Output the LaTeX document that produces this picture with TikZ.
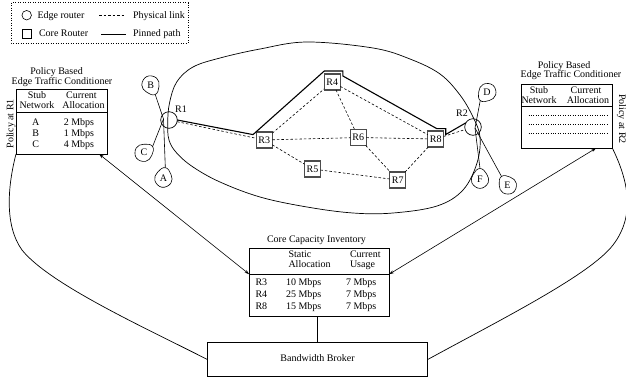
\documentclass[tikz,border=0pt]{standalone}
\usepackage{fontspec}
\setmainfont{Liberation Serif}
\usetikzlibrary{arrows.meta,shapes.geometric,calc}
\newcommand{\tdrop}[2]{\draw[line width=0.6pt,shift={(#1.center)}] plot[smooth cycle,tension=0.75] coordinates {(#2:10.5) (#2+55:8.3) (#2+115:9) (#2+180:9.4) (#2+245:9) (#2+305:8.3)};}
\begin{document}
\begin{tikzpicture}[x=1pt,y=1pt,
  every node/.style={font=\fontsize{10}{10.5}\selectfont, inner sep=0pt, outer sep=0pt},
  lbl/.style={anchor=base},
  lblw/.style={anchor=base west},
  edger/.style={circle,draw,line width=0.7pt,minimum size=16.6pt},
  core/.style={rectangle,draw=black!70,line width=1.1pt,minimum size=16pt},
  stub/.style={circle,minimum size=21pt},
  phys/.style={dash pattern=on 2.5pt off 2pt,line width=0.6pt},
  pinned/.style={line width=1.1pt,line join=miter},
  tbox/.style={rectangle,draw,line width=0.8pt},
  wire/.style={line width=0.6pt},
  curve/.style={line width=0.7pt},
  arr/.style={line width=0.6pt,{Stealth[length=5pt,width=3pt]}-{Stealth[length=5pt,width=3pt]}},
]
\useasboundingbox (0,0) rectangle (626,-381);

% ---------- legend ----------
\draw[dotted,line width=0.5pt] (11,-2.7) rectangle (188,-43);
\node[circle,draw,line width=0.6pt,minimum size=9.5pt] (lgE) at (26.7,-15.2) {};
\node[lblw] (lgEt) at (37.5,-18.3) {Edge router};
\coordinate (lgP1) at (99,-15); \coordinate (lgP2) at (124,-15);
\draw[phys] (lgP1) -- (lgP2);
\node[lblw] (lgPt) at (133,-18.3) {Physical link};
\node[rectangle,draw,line width=0.6pt,minimum size=9pt] (lgC) at (27,-33.3) {};
\node[lblw] (lgCt) at (39,-36.7) {Core Router};
\coordinate (lgS1) at (101,-34); \coordinate (lgS2) at (126,-34);
\draw[line width=0.9pt] (lgS1) -- (lgS2);
\node[lblw] (lgSt) at (133,-36.7) {Pinned path};

% ---------- core cloud ----------
\draw[curve] plot[smooth cycle,tension=0.6] coordinates {
 (167.7,-123) (169.5,-103) (176.7,-82) (193,-67) (220,-58) (260,-49) (307,-42)
 (373,-48) (410,-59) (440,-74) (460,-95) (473,-117) (480,-137) (477,-163)
 (463,-190) (437,-206) (393,-213) (353,-213) (307,-207) (260,-197) (220,-182)
 (193,-167) (176.7,-153) (169,-140)};

% ---------- routers ----------
\node[edger] (R1) at (169,-120) {};
\node[edger] (R2) at (473,-127) {};
\node[lbl] (R1l) at (181,-112.7) {R1};
\node[lbl] (R2l) at (462,-116.7) {R2};
\node[core] (R3) at (264.3,-140) {R3};
\node[core] (R4) at (332.3,-82) {R4};
\node[core] (R5) at (312.5,-169) {R5};
\node[core] (R6) at (358.3,-137.5) {R6};
\node[core] (R7) at (397.7,-180) {R7};
\node[core] (R8) at (435.7,-139) {R8};

% stub networks
\node[stub] (B) at (150.8,-85) {B};
\node[stub] (C) at (144,-152.5) {C};
\node[stub] (A) at (163.5,-178) {A};
\node[stub] (D) at (487,-92.5) {D};
\node[stub] (F) at (480,-179) {F};
\node[stub] (E) at (507.5,-185) {E};
\tdrop{B}{-65}
\tdrop{C}{35}
\tdrop{A}{80}
\tdrop{D}{-130}
\tdrop{F}{90}
\tdrop{E}{125}
\coordinate (R1hub) at (163.5,-119);
\coordinate (R2hub) at (475,-128);
\draw[wire] (R1hub) -- (B.-65);
\draw[wire] (R1hub) -- (C.35);
\draw[wire] (R1hub) -- (A.80);
\draw[wire] (R2hub) -- (D.-130);
\draw[wire] (R2hub) -- (F.90);
\draw[wire] (R2hub) -- (E.125);

% physical links
\draw[phys] (R1) -- (R3);
\draw[phys] (R3) -- (R4);
\draw[phys] (R3) -- (R6);
\draw[phys] (R3) -- (R5);
\draw[phys] (R4) -- (R6);
\draw[phys] (R4) -- (R8);
\draw[phys] (R6) -- (R8);
\draw[phys] (R6) -- (R7);
\draw[phys] (R5) -- (R7);
\draw[phys] (R7) -- (R8);
\draw[phys] (R8) -- (R2);

% pinned path
\draw[pinned] (R1.east) -- ($(R3.north west)+(-3.3,-2.6)$)
  -- ($(R4.north west)+(0,3)$) -- ($(R4.north east)+(2.6,3)$)
  -- ($(R4.north east)+(2.6,-2)$) -- ($(R8.north)+(1,2.4)$)
  -- ($(R8.north east)+(2,2.4)$) -- ($(R8.north east)+(2,-3.5)$)
  -- (R2.150);

% ---------- left conditioner ----------
\node[lbl] (LT1) at (56.5,-74) {Policy Based};
\node[lbl] (LT2) at (62,-84) {Edge Traffic Conditioner};
\node[tbox,minimum width=91pt,minimum height=64.7pt] (LT) at (61.5,-121.65) {};
\draw[line width=0.8pt] (LT.west |- 0,-112.7) -- (LT.east |- 0,-112.7);
\node[lbl] at (37,-98.5) {Stub};
\node[lbl] at (37,-108) {Network};
\node[lbl] at (81.5,-98.5) {Current};
\node[lbl] at (83.5,-108) {Allocation};
\node[lbl] at (35.7,-125) {A};
\node[lbl] at (35.7,-136.2) {B};
\node[lbl] at (35.7,-147.4) {C};
\node[lbl] at (79,-125) {2 Mbps};
\node[lbl] at (79,-136.2) {1 Mbps};
\node[lbl] at (79,-147.4) {4 Mbps};
\node[rotate=90] (P1) at (11,-123.8) {Policy at R1};

% ---------- right conditioner ----------
\node[lbl] (RT1) at (564,-68.3) {Policy Based};
\node[lbl] (RT2) at (571,-77.7) {Edge Traffic Conditioner};
\node[tbox,minimum width=90.6pt,minimum height=64pt] (RT) at (567,-116) {};
\draw[line width=0.8pt] (RT.west |- 0,-106.3) -- (RT.east |- 0,-106.3);
\node[lbl] at (539,-93.8) {Stub};
\node[lbl] at (539,-103.3) {Network};
\node[lbl] at (586,-93.8) {Current};
\node[lbl] at (588,-103.3) {Allocation};
\foreach \yy in {115,124,133.3}{\draw[dotted,line width=0.45pt] (528.5,-\yy) -- (608.3,-\yy);}
\node[rotate=-90] (P2) at (621.5,-119) {Policy at R2};

% ---------- core capacity inventory ----------
\node[lbl] (CCt) at (316.5,-242) {Core Capacity Inventory};
\node[tbox,minimum width=139.7pt,minimum height=68pt] (CCI) at (319.15,-282.3) {};
\coordinate (CCIw) at (CCI.west |- 0,-274.3);
\coordinate (CCIe) at (CCI.east |- 0,-274.3);
\draw[line width=0.8pt] (CCIw) -- (CCIe);
\node[lblw] at (288.5,-257.5) {Static};
\node[lblw] at (288.5,-267.3) {Allocation};
\node[lblw] at (350,-257.5) {Current};
\node[lblw] at (350,-267.3) {Usage};
\node[lblw] at (255.5,-285.7) {R3};
\node[lblw] at (255.5,-297.5) {R4};
\node[lblw] at (255.5,-309.3) {R8};
\node[lblw] at (286,-285.7) {10 Mbps};
\node[lblw] at (286,-297.5) {25 Mbps};
\node[lblw] at (286,-309.3) {15 Mbps};
\node[lblw] at (346,-285.7) {7 Mbps};
\node[lblw] at (346,-297.5) {7 Mbps};
\node[lblw] at (346,-309.3) {7 Mbps};

% ---------- bandwidth broker ----------
\node[tbox,minimum width=220.4pt,minimum height=34.4pt] (BB) at (317.5,-359.5) {};
\node[lbl] at (317.5,-361.3) {Bandwidth Broker};
\draw[wire] (CCI.south -| 317.7,0) -- (BB.north -| 317.7,0);

% ---------- arrows and curves ----------
\draw[arr] ($(LT.south east)+(-8,0)$) -- (CCIw);
\draw[arr] (CCIe) -- ($(RT.south east)+(-16,0)$);
\draw[curve] (LT.south west) .. controls (8,-185) and (4,-225) .. (22,-250)
  .. controls (50,-285) and (150,-330) .. (BB.west);
\draw[curve] (RT.south east) .. controls (628,-180) and (636,-215) .. (613,-245)
  .. controls (590,-275) and (500,-320) .. (BB.east);
\end{tikzpicture}
\end{document}
